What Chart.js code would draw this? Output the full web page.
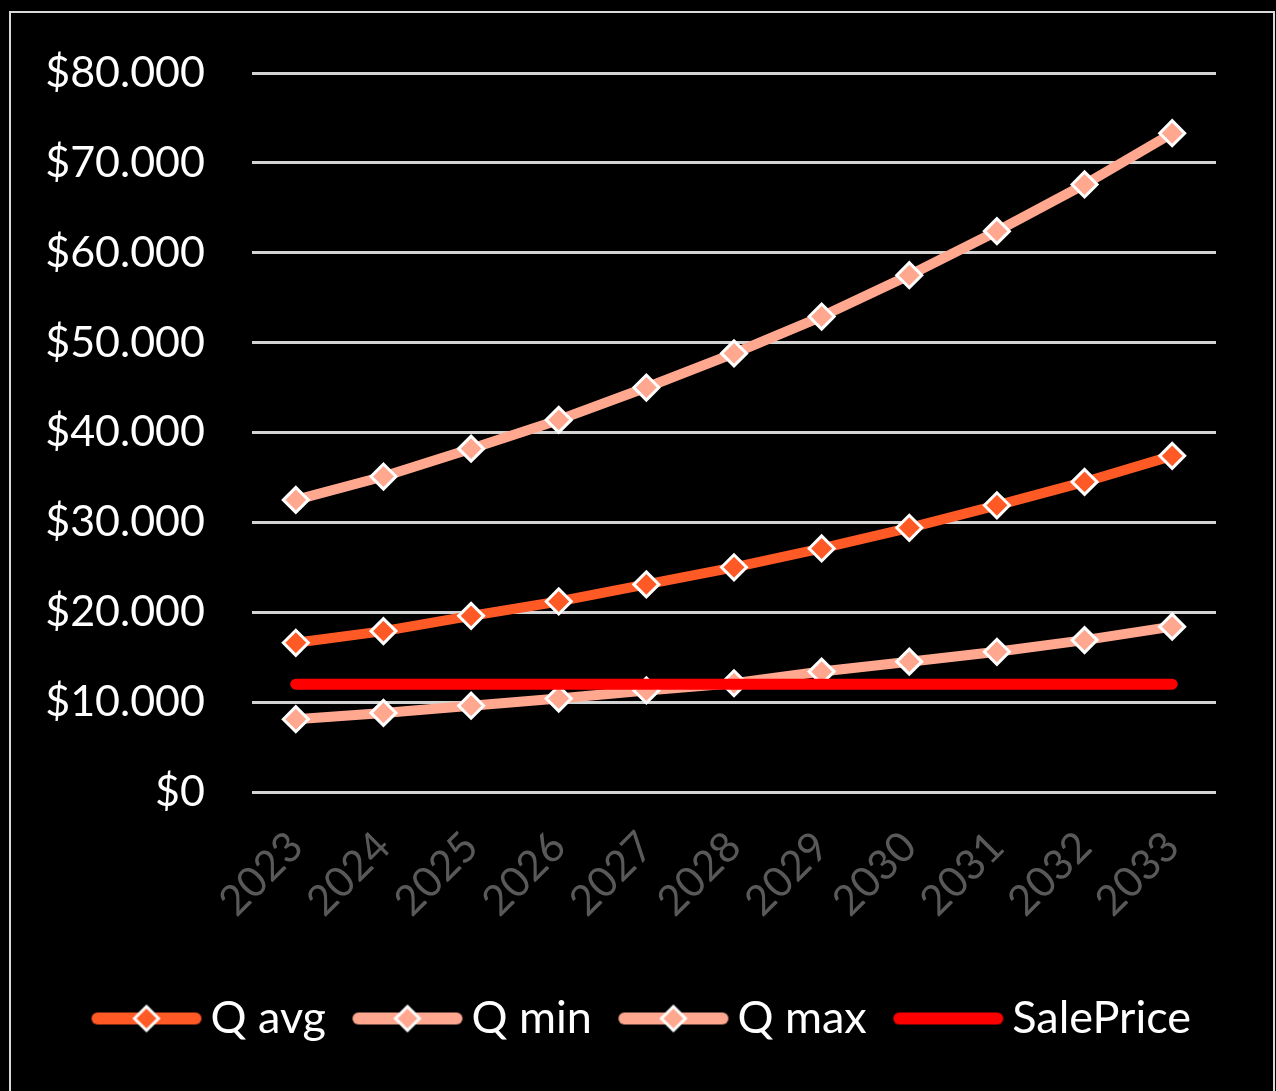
<!DOCTYPE html>
<html>
<head>
<meta charset="utf-8">
<script src="https://cdn.jsdelivr.net/npm/chart.js@4/dist/chart.umd.min.js"></script>
<style>
  html, body { margin: 0; padding: 0; background: #000; overflow: hidden; }
  #wrap { position: absolute; left: 0; top: 0; width: 1276px; height: 1091px; }
  #frame { position: absolute; left: 9px; top: 11px; width: 1266px; height: 1100px; border: 2px solid #d9d9d9; box-sizing: border-box; pointer-events: none; }
  canvas { position: absolute; left: 0; top: 0; }
</style>
</head>
<body>
<div id="wrap">
  <div id="frame"></div>
  <canvas id="c" width="1276" height="1091"></canvas>
</div>
<script>
const years = ['2023','2024','2025','2026','2027','2028','2029','2030','2031','2032','2033'];
const qAvg = [16600,17900,19600,21200,23100,25000,27100,29400,31900,34500,37400];
const qMin = [8100,8800,9600,10400,11300,12100,13400,14500,15600,16900,18400];
const qMax = [32500,35100,38200,41400,45000,48800,52900,57500,62400,67600,73300];
const salePrice = [12000,12000,12000,12000,12000,12000,12000,12000,12000,12000,12000];
const seriesNames = ['Q avg','Q min','Q max','SalePrice'];

const cAvg = '#FF5A25';
const cMinMax = '#FFA88F';
const cSale = '#FF0000';
const FONT = 'Lato, "Open Sans", sans-serif';

function legendImg(color, marker) {
  const w = 112, h = 34;
  const cv = document.createElement('canvas');
  cv.width = w; cv.height = h;
  const g = cv.getContext('2d');
  g.strokeStyle = color; g.lineWidth = 12; g.lineCap = 'round';
  g.beginPath(); g.moveTo(7, h/2); g.lineTo(w-7, h/2); g.stroke();
  if (marker) {
    const r = 12, cx = w/2, cy = h/2;
    g.beginPath();
    g.moveTo(cx - r, cy); g.lineTo(cx, cy - r); g.lineTo(cx + r, cy); g.lineTo(cx, cy + r); g.closePath();
    g.fillStyle = color; g.fill();
    g.lineWidth = 3; g.strokeStyle = '#fff'; g.lineJoin = 'miter'; g.stroke();
  }
  return cv;
}
const legendImgs = [legendImg(cAvg, true), legendImg(cMinMax, true), legendImg(cMinMax, true), legendImg(cSale, false)];

function fmt(v) {
  if (v === 0) return '$0';
  return '$' + String(v).replace(/\B(?=(\d{3})+(?!\d))/g, '.');
}

const lineDs = (label, data, color, order) => ({
  label, data, order,
  borderColor: color, backgroundColor: color,
  borderWidth: 10, borderCapStyle: 'round', borderJoinStyle: 'round',
  pointStyle: 'rectRot', pointRadius: 12.5, pointHoverRadius: 12.5,
  pointBackgroundColor: color, pointBorderColor: '#fff', pointBorderWidth: 3,
  tension: 0
});

const shiftLegend = {
  id: 'shiftLegend',
  afterLayout(chart) {
    const lg = chart.legend;
    if (lg) { lg.left += 40; lg.right += 40; }
  }
};

new Chart(document.getElementById('c'), {
  type: 'line',
  data: {
    labels: years,
    datasets: [
      lineDs(seriesNames[0], qAvg, cAvg, 4),
      lineDs(seriesNames[1], qMin, cMinMax, 3),
      lineDs(seriesNames[2], qMax, cMinMax, 2),
      { label: seriesNames[3], data: salePrice, order: 1, borderColor: cSale, backgroundColor: cSale,
        borderWidth: 11, borderCapStyle: 'round', pointRadius: 0, pointHoverRadius: 0, tension: 0 }
    ]
  },
  plugins: [shiftLegend],
  options: {
    responsive: false,
    animation: false,
    devicePixelRatio: 1,
    layout: { padding: { left: 0, right: 60, top: 73, bottom: 40 } },
    plugins: {
      tooltip: { enabled: false },
      legend: {
        position: 'bottom',
        labels: {
          usePointStyle: true,
          pointStyleWidth: 83,
          padding: 40,
          color: '#fff',
          font: { family: FONT, size: 45 },
          generateLabels: (chart) => chart.data.datasets.map((ds, i) => ({
            text: ds.label,
            datasetIndex: i,
            pointStyle: legendImgs[i],
            fillStyle: 'transparent',
            strokeStyle: 'transparent',
            lineWidth: 0,
            fontColor: '#fff',
            hidden: false
          }))
        }
      }
    },
    scales: {
      x: {
        offset: true,
        grid: { display: false, drawTicks: false },
        border: { display: false },
        ticks: {
          color: '#595959',
          font: { family: FONT, size: 42 },
          maxRotation: 45, minRotation: 45,
          padding: 30,
          autoSkip: false
        },
        afterFit: (s) => { s.height = 164; }
      },
      y: {
        min: 0, max: 80000,
        grid: { color: '#d4d4d4', lineWidth: 3, drawTicks: false },
        border: { display: false },
        ticks: {
          stepSize: 10000,
          color: '#fff',
          font: { family: FONT, size: 43 },
          padding: 47,
          callback: (v) => fmt(v)
        },
        afterFit: (s) => { s.width = 252; }
      }
    }
  }
});
</script>
</body>
</html>
